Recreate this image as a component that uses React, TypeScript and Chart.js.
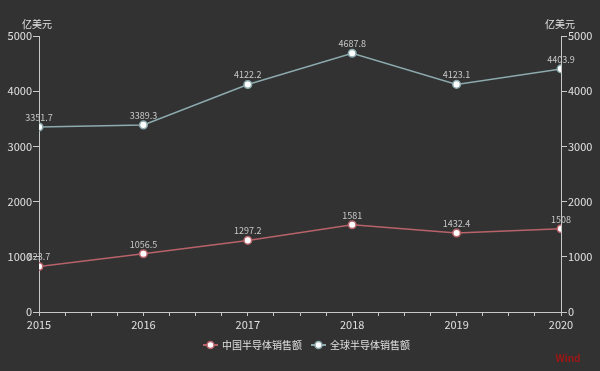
import React, { useEffect, useRef } from "react";
import { Chart, registerables } from "chart.js";

Chart.register(...registerables);

const years = [2015, 2016, 2017, 2018, 2019, 2020];
const chinaSales = [823.7, 1056.5, 1297.2, 1581, 1432.4, 1508];
const globalSales = [3351.7, 3389.3, 4122.2, 4687.8, 4123.1, 4403.9];
const seriesNames = ["中国半导体销售额", "全球半导体销售额"];
const seriesColors = ["#b8636a", "#8daaae"];
const unitLabel = "亿美元";
const sourceLabel = "Wind";

const FONT = "'Noto Sans CJK SC', 'Noto Sans', sans-serif";

const overlayPlugin = {
  id: "overlay",
  afterDatasetsDraw(chart: any) {
    const ctx = chart.ctx;
    ctx.save();
    ctx.font = `9px ${FONT}`;
    ctx.fillStyle = "#c8c8c8";
    ctx.textAlign = "center";
    ctx.textBaseline = "bottom";
    chart.data.datasets.forEach((ds: any, i: number) => {
      const meta = chart.getDatasetMeta(i);
      meta.data.forEach((pt: any, j: number) => {
        const v = ds.data[j].y;
        ctx.fillText(String(v), pt.x, pt.y - 5);
      });
    });
    ctx.restore();
  },
  afterDraw(chart: any) {
    const ctx = chart.ctx;
    const { left, right, top } = chart.chartArea;
    ctx.save();
    ctx.font = `10px ${FONT}`;
    ctx.fillStyle = "#e0e0e0";
    ctx.textBaseline = "middle";
    ctx.textAlign = "center";
    ctx.fillText(unitLabel, left - 2, top - 12);
    ctx.fillText(unitLabel, right - 1, top - 12);

    ctx.font = `10px ${FONT}`;
    const ly = 345;
    let x = 203;
    chart.data.datasets.forEach((ds: any) => {
      const color = ds.borderColor;
      ctx.strokeStyle = color;
      ctx.lineWidth = 2;
      ctx.beginPath();
      ctx.moveTo(x, ly);
      ctx.lineTo(x + 15, ly);
      ctx.stroke();
      ctx.beginPath();
      ctx.arc(x + 7.5, ly, 3.5, 0, Math.PI * 2);
      ctx.fillStyle = "#ffffff";
      ctx.fill();
      ctx.lineWidth = 1.5;
      ctx.stroke();
      ctx.fillStyle = "#e0e0e0";
      ctx.textAlign = "left";
      ctx.fillText(ds.label, x + 19, ly);
      const w = ctx.measureText(ds.label).width;
      x += 19 + w + 9;
    });

    ctx.font = `bold 10px ${FONT}`;
    ctx.fillStyle = "#9e1616";
    ctx.textAlign = "center";
    ctx.fillText(sourceLabel, 568, 358);
    ctx.restore();
  },
};

export default function App() {
  const canvasRef = useRef<HTMLCanvasElement | null>(null);

  useEffect(() => {
    document.body.style.margin = "0";
    document.body.style.background = "#323232";
    const canvas = canvasRef.current;
    if (!canvas) return;
    const axisColor = "#c8c8c8";
    const tickFont = { family: FONT, size: 11 };
    const yTickCb = (v: any) => String(v);
    const chart = new Chart(canvas, {
      type: "line",
      data: {
        datasets: [
          {
            label: seriesNames[0],
            data: years.map((y, i) => ({ x: y, y: chinaSales[i] })),
            borderColor: seriesColors[0],
            backgroundColor: "#ffffff",
            pointBackgroundColor: "#ffffff",
            pointBorderColor: seriesColors[0],
            pointBorderWidth: 1.5,
            pointRadius: 3.8,
            borderWidth: 1.5,
            yAxisID: "y",
            tension: 0,
          },
          {
            label: seriesNames[1],
            data: years.map((y, i) => ({ x: y, y: globalSales[i] })),
            borderColor: seriesColors[1],
            backgroundColor: "#ffffff",
            pointBackgroundColor: "#ffffff",
            pointBorderColor: seriesColors[1],
            pointBorderWidth: 1.5,
            pointRadius: 3.8,
            borderWidth: 1.5,
            yAxisID: "y1",
            tension: 0,
          },
        ],
      },
      options: {
        animation: false,
        responsive: false,
        maintainAspectRatio: false,
        layout: { padding: { top: 36, left: 0, right: 0, bottom: 0 } },
        plugins: {
          legend: { display: false },
          tooltip: { enabled: false },
        },
        scales: {
          x: {
            type: "linear",
            min: years[0],
            max: years[years.length - 1],
            ticks: {
              stepSize: 0.25,
              autoSkip: false,
              maxRotation: 0,
              color: "#e0e0e0",
              font: tickFont,
              padding: 2,
              callback: (v: any) =>
                Number.isInteger(Number(v)) ? String(v) : "",
            },
            grid: {
              drawOnChartArea: false,
              drawTicks: true,
              tickLength: 4,
              color: axisColor,
            },
            border: { display: true, color: axisColor, width: 1 },
            afterFit: (s: any) => {
              s.height = 59;
            },
          },
          y: {
            type: "linear",
            position: "left",
            min: 0,
            max: 5000,
            ticks: {
              stepSize: 1000,
              color: "#e0e0e0",
              font: tickFont,
              padding: 1,
              callback: yTickCb,
            },
            grid: {
              drawOnChartArea: false,
              drawTicks: true,
              tickLength: 6,
              color: axisColor,
            },
            border: { display: true, color: axisColor, width: 1 },
            afterFit: (s: any) => {
              s.width = 39;
            },
          },
          y1: {
            type: "linear",
            position: "right",
            min: 0,
            max: 5000,
            ticks: {
              stepSize: 1000,
              color: "#e0e0e0",
              font: tickFont,
              padding: 1,
              callback: yTickCb,
            },
            grid: {
              drawOnChartArea: false,
              drawTicks: true,
              tickLength: 6,
              color: axisColor,
            },
            border: { display: true, color: axisColor, width: 1 },
            afterFit: (s: any) => {
              s.width = 39;
            },
          },
        },
      },
      plugins: [overlayPlugin],
    } as any);
    return () => chart.destroy();
  }, []);

  return (
    <div
      style={{
        position: "absolute",
        left: 0,
        top: 0,
        width: 600,
        height: 371,
        background: "#323232",
      }}
    >
      <canvas ref={canvasRef} width={600} height={371} />
    </div>
  );
}
